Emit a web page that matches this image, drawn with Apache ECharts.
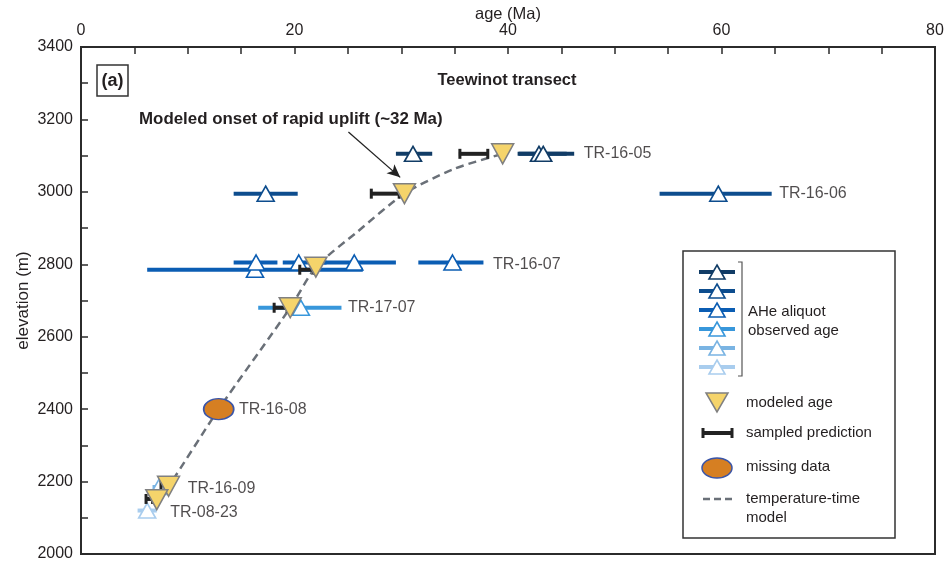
<!DOCTYPE html>
<html>
<head>
<meta charset="utf-8">
<script src="https://cdn.jsdelivr.net/npm/echarts@6/dist/echarts.min.js"></script>
<style>
html,body{margin:0;padding:0;background:#fff;}
#chart{width:948px;height:571px;}
</style>
</head>
<body>
<div id="chart"></div>
<script>
// ---------- data ----------
const xTicks = [0, 20, 40, 60, 80];
const yTicks = [2000, 2200, 2400, 2600, 2800, 3000, 3200, 3400];

// AHe aliquot observed ages (Ma), 1-sigma range, elevation (m), colour shade index
const obsAge   = [31.1, 42.9, 43.3, 17.3, 59.7, 16.3, 16.4, 20.4, 25.6, 34.8, 20.6, 7.3, 6.2];
const obsLow   = [29.5, 40.9, 41.0, 14.3, 54.2, 6.2, 14.3, 18.9, 22.0, 31.6, 16.6, 6.7, 5.3];
const obsHigh  = [32.9, 45.5, 46.2, 20.3, 64.7, 26.4, 18.4, 23.0, 29.5, 37.7, 24.4, 7.9, 7.1];
const obsElev  = [3105, 3105, 3105, 2995, 2995, 2785, 2805, 2805, 2805, 2805, 2680, 2185, 2120];
const obsShade = [0, 0, 0, 1, 1, 2, 2, 2, 2, 2, 3, 4, 5];

// modeled ages and sampled prediction ranges
const modName  = ['TR-16-05', 'TR-16-06', 'TR-16-07', 'TR-17-07', 'TR-16-09', 'TR-08-23'];
const modAge   = [39.5, 30.3, 22.0, 19.6, 8.2, 7.1];
const modElev  = [3105, 2995, 2792, 2680, 2187, 2150];
const predLow  = [35.4, 27.1, 20.4, 18.0, 7.4, 6.0];
const predHigh = [38.2, 29.9, 21.9, 19.4, 8.0, 6.8];
const predElev = [3105, 2995, 2785, 2680, 2192, 2152];

// missing data sample
const missAge  = [12.9];
const missElev = [2400];

// temperature-time model curve
const modelAge  = [7.1, 8.2, 12.9, 19.6, 22.0, 25.9, 30.3, 34.9, 39.5];
const modelElev = [2150, 2187, 2400, 2680, 2792, 2890, 2995, 3063, 3105];

// sample labels
const labelText = ['TR-16-05', 'TR-16-06', 'TR-16-07', 'TR-17-07', 'TR-16-08', 'TR-16-09', 'TR-08-23'];
const labelAge  = [47.1, 65.4, 38.6, 25.0, 14.8, 10.0, 8.35];
const labelElev = [3105, 2995, 2800, 2680, 2398, 2181, 2113];

// annotation arrow (data coords)
const arrowFrom = [25.05, 3165];
const arrowTo   = [29.9, 3040];

// ---------- styles ----------
const shades = ['#113c66', '#0d4d8e', '#0b5db3', '#3897db', '#7ab4e3', '#a9cdee'];
const FONT = "'Liberation Sans', Arial, sans-serif";
const TXT = '#231f20';

const chart = echarts.init(document.getElementById('chart'), null, {renderer: 'canvas'});

const obsBarData = obsAge.map((a, i) => [obsElev[i], obsLow[i], obsHigh[i], obsShade[i]]);
const obsPtData = obsAge.map((a, i) => ({
  value: [a, obsElev[i]],
  itemStyle: {borderColor: shades[obsShade[i]]}
}));
const predData = predLow.map((l, i) => [predElev[i], l, predHigh[i]]);

// legend (graphic)
const legRows = [272, 291, 310, 329, 348, 367];
const legendEls = [];
legendEls.push({type: 'rect', shape: {x: 683, y: 251, width: 212, height: 287},
  style: {fill: '#fff', stroke: '#333', lineWidth: 1.5}, z: 50});
legRows.forEach((y, i) => {
  legendEls.push({type: 'line', shape: {x1: 699, y1: y, x2: 735, y2: y},
    style: {stroke: shades[i], lineWidth: 4}, z: 51});
  legendEls.push({type: 'polygon', shape: {points: [[717, y - 7], [725, y + 7], [709, y + 7]]},
    style: {fill: '#fff', stroke: shades[i], lineWidth: 1.6}, z: 52});
});
legendEls.push({type: 'polyline', shape: {points: [[738, 262], [742, 262], [742, 376], [738, 376]]},
  style: {stroke: '#555', lineWidth: 1.2, fill: null}, z: 51});
legendEls.push({type: 'text', x: 748, y: 312, style: {text: 'AHe aliquot', font: '15px ' + FONT, fill: TXT, verticalAlign: 'middle'}, z: 52});
legendEls.push({type: 'text', x: 748, y: 331, style: {text: 'observed age', font: '15px ' + FONT, fill: TXT, verticalAlign: 'middle'}, z: 52});
legendEls.push({type: 'polygon', shape: {points: [[706, 393], [728, 393], [717, 412]]},
  style: {fill: '#f5d46b', stroke: '#808080', lineWidth: 1.5}, z: 52});
legendEls.push({type: 'text', x: 746, y: 403, style: {text: 'modeled age', font: '15px ' + FONT, fill: TXT, verticalAlign: 'middle'}, z: 52});
legendEls.push({type: 'line', shape: {x1: 702, y1: 433, x2: 733, y2: 433}, style: {stroke: '#222', lineWidth: 4}, z: 52});
legendEls.push({type: 'line', shape: {x1: 703, y1: 428, x2: 703, y2: 438}, style: {stroke: '#222', lineWidth: 3}, z: 52});
legendEls.push({type: 'line', shape: {x1: 732, y1: 428, x2: 732, y2: 438}, style: {stroke: '#222', lineWidth: 3}, z: 52});
legendEls.push({type: 'text', x: 746, y: 433, style: {text: 'sampled prediction', font: '15px ' + FONT, fill: TXT, verticalAlign: 'middle'}, z: 52});
legendEls.push({type: 'ellipse', shape: {cx: 717, cy: 468, rx: 15, ry: 10},
  style: {fill: '#d67f22', stroke: '#3a55a8', lineWidth: 1.5}, z: 52});
legendEls.push({type: 'text', x: 746, y: 467, style: {text: 'missing data', font: '15px ' + FONT, fill: TXT, verticalAlign: 'middle'}, z: 52});
legendEls.push({type: 'line', shape: {x1: 703, y1: 499, x2: 733, y2: 499},
  style: {stroke: '#6a7078', lineWidth: 2.5, lineDash: [7, 4]}, z: 52});
legendEls.push({type: 'text', x: 746, y: 499, style: {text: 'temperature-time', font: '15px ' + FONT, fill: TXT, verticalAlign: 'middle'}, z: 52});
legendEls.push({type: 'text', x: 746, y: 518, style: {text: 'model', font: '15px ' + FONT, fill: TXT, verticalAlign: 'middle'}, z: 52});

// panel letter, title, annotation
const extraEls = [
  {type: 'rect', shape: {x: 97, y: 65, width: 31, height: 31}, style: {fill: '#fff', stroke: '#333', lineWidth: 1.5}, z: 50},
  {type: 'text', x: 112.5, y: 81, style: {text: '(a)', font: 'bold 18px ' + FONT, fill: TXT, align: 'center', verticalAlign: 'middle'}, z: 51},
  {type: 'text', x: 507, y: 80, style: {text: 'Teewinot transect', font: 'bold 16.5px ' + FONT, fill: TXT, align: 'center', verticalAlign: 'middle'}, z: 51},
  {type: 'text', x: 139, y: 119, style: {text: 'Modeled onset of rapid uplift (~32 Ma)', font: 'bold 16.9px ' + FONT, fill: TXT, verticalAlign: 'middle'}, z: 51}
];

const option = {
  animation: false,
  backgroundColor: '#fff',
  textStyle: {fontFamily: FONT, color: TXT},
  grid: {left: 81, top: 47, right: 13, bottom: 17, show: true, borderColor: '#2b2b2b', borderWidth: 2,
    backgroundColor: 'transparent', containLabel: false, outerBoundsMode: 'none'},
  xAxis: {
    type: 'value', position: 'top', min: xTicks[0], max: xTicks[xTicks.length - 1], interval: 20,
    name: 'age (Ma)', nameLocation: 'middle', nameGap: 24, nameMoveOverlap: false,
    nameTextStyle: {fontSize: 16.5, color: TXT, fontFamily: FONT},
    axisLine: {show: true, lineStyle: {color: '#2b2b2b', width: 2}},
    axisTick: {show: true, inside: true, length: 7, lineStyle: {color: '#2b2b2b', width: 1.5}},
    minorTick: {show: true, splitNumber: 4, length: 7, lineStyle: {color: '#2b2b2b', width: 1.5}},
    splitLine: {show: false}, minorSplitLine: {show: false},
    axisLabel: {fontSize: 16, color: TXT, margin: 8, fontFamily: FONT, showMinLabel: true, showMaxLabel: true, hideOverlap: false,
      formatter: function (v) { return String(v); }}
  },
  yAxis: {
    type: 'value', min: yTicks[0], max: yTicks[yTicks.length - 1], interval: 200,
    name: 'elevation (m)', nameLocation: 'middle', nameGap: 49, nameRotate: 90, nameMoveOverlap: false,
    nameTextStyle: {fontSize: 17, color: TXT, fontFamily: FONT},
    axisLine: {show: true, lineStyle: {color: '#2b2b2b', width: 2}},
    axisTick: {show: true, inside: true, length: 7, lineStyle: {color: '#2b2b2b', width: 1.5}},
    minorTick: {show: true, splitNumber: 2, length: 7, lineStyle: {color: '#2b2b2b', width: 1.5}},
    splitLine: {show: false}, minorSplitLine: {show: false},
    axisLabel: {fontSize: 16, color: TXT, margin: 8, fontFamily: FONT, showMinLabel: true, showMaxLabel: true, hideOverlap: false,
      formatter: function (v) { return String(v); }}
  },
  graphic: extraEls.concat(legendEls),
  series: [
    {
      name: 'observed bars', type: 'custom', z: 2, silent: true,
      data: obsBarData,
      encode: {x: [1, 2], y: 0},
      renderItem: function (params, api) {
        const y = api.value(0);
        const p1 = api.coord([api.value(1), y]);
        const p2 = api.coord([api.value(2), y]);
        return {type: 'line', shape: {x1: p1[0], y1: p1[1], x2: p2[0], y2: p2[1]},
          style: {stroke: shades[api.value(3)], lineWidth: 4}};
      }
    },
    {
      name: 'observed age', type: 'scatter', z: 3, silent: true,
      symbol: 'triangle', symbolSize: [17, 15],
      itemStyle: {color: '#fff', borderWidth: 1.6, opacity: 1},
      data: obsPtData
    },
    {
      name: 'temperature-time model', type: 'line', z: 4, silent: true,
      smooth: 0.25, showSymbol: false, symbol: 'none',
      lineStyle: {color: '#6a7078', width: 2.5, type: [8, 5]},
      data: modelAge.map((a, i) => [a, modelElev[i]]),
      markLine: {
        silent: true, symbol: ['none', 'arrow'], symbolSize: [9, 13],
        lineStyle: {color: '#222', width: 1.3, type: 'solid'},
        label: {show: false},
        data: [[{coord: arrowFrom}, {coord: arrowTo}]]
      }
    },
    {
      name: 'sampled prediction', type: 'custom', z: 5, silent: true,
      data: predData,
      encode: {x: [1, 2], y: 0},
      renderItem: function (params, api) {
        const y = api.value(0);
        const p1 = api.coord([api.value(1), y]);
        const p2 = api.coord([api.value(2), y]);
        return {type: 'group', children: [
          {type: 'line', shape: {x1: p1[0], y1: p1[1], x2: p2[0], y2: p2[1]}, style: {stroke: '#222', lineWidth: 4}},
          {type: 'line', shape: {x1: p1[0] + 1, y1: p1[1] - 5, x2: p1[0] + 1, y2: p1[1] + 5}, style: {stroke: '#222', lineWidth: 3}},
          {type: 'line', shape: {x1: p2[0] - 1, y1: p2[1] - 5, x2: p2[0] - 1, y2: p2[1] + 5}, style: {stroke: '#222', lineWidth: 3}}
        ]};
      }
    },
    {
      name: 'modeled age', type: 'scatter', z: 6, silent: true,
      symbol: 'triangle', symbolRotate: 180, symbolSize: [22, 20],
      itemStyle: {color: '#f5d46b', borderColor: '#808080', borderWidth: 1.5, opacity: 1},
      data: modAge.map((a, i) => [a, modElev[i]])
    },
    {
      name: 'missing data', type: 'scatter', z: 6, silent: true,
      symbol: 'circle', symbolSize: [30, 21],
      itemStyle: {color: '#d67f22', borderColor: '#3a55a8', borderWidth: 1.5, opacity: 1},
      data: missAge.map((a, i) => [a, missElev[i]])
    },
    {
      name: 'labels', type: 'scatter', z: 7, silent: true,
      symbolSize: 0.001,
      label: {show: true, position: 'right', distance: 0, fontSize: 16, color: TXT, fontFamily: FONT,
        formatter: function (p) { return labelText[p.dataIndex]; }},
      data: labelAge.map((a, i) => [a, labelElev[i]])
    }
  ]
};
chart.setOption(option);
</script>
</body>
</html>
